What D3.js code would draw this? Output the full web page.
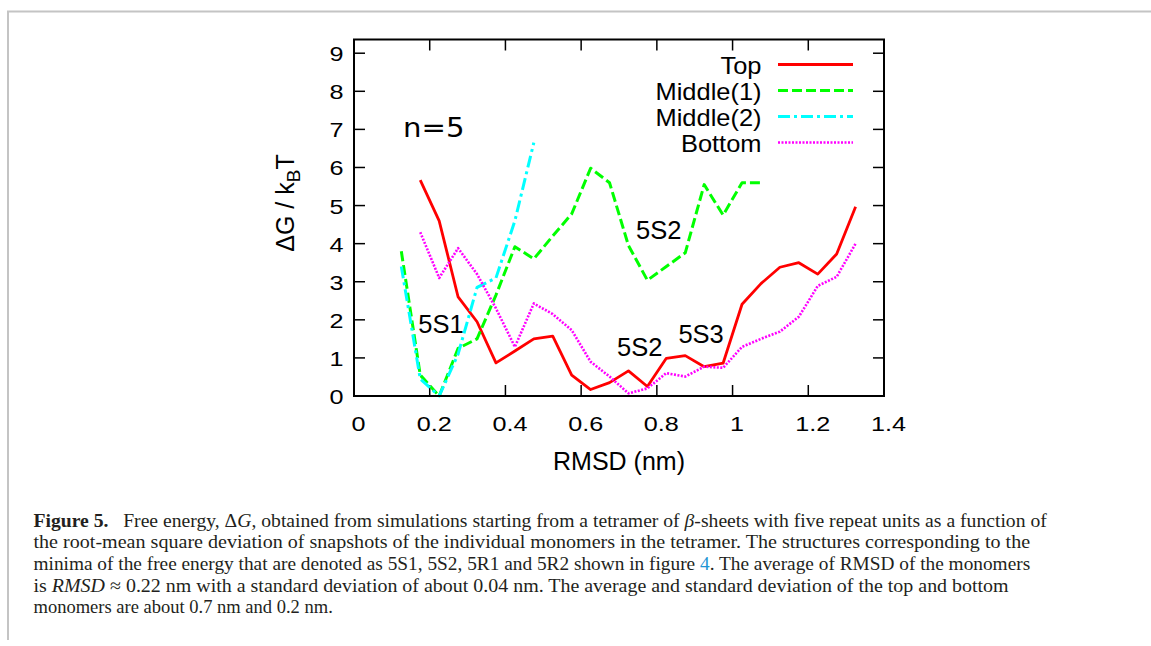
<!DOCTYPE html>
<html>
<head>
<meta charset="utf-8">
<script src="https://cdn.jsdelivr.net/npm/d3@7"></script>
<style>
  body { margin: 0; background: #fff; }
  svg { display: block; }
</style>
</head>
<body>
<svg width="1151" height="646"></svg>
<script>
// values (RMSD in nm, dG in kBT)
const topX = [0.175, 0.225, 0.275, 0.325, 0.375, 0.425, 0.475, 0.525, 0.575, 0.625, 0.675, 0.725,
              0.775, 0.825, 0.875, 0.925, 0.975, 1.025, 1.075, 1.125, 1.175, 1.225, 1.275, 1.325];
const topY = [5.67, 4.6, 2.6, 1.95, 0.87, 1.18, 1.5, 1.57, 0.55, 0.17, 0.35, 0.66,
              0.25, 0.99, 1.06, 0.77, 0.86, 2.41, 2.95, 3.38, 3.5, 3.2, 3.73, 4.97];

const mid1X = [0.125, 0.175, 0.225, 0.275, 0.325, 0.375, 0.425, 0.475, 0.525, 0.575,
               0.625, 0.675, 0.725, 0.775, 0.825, 0.875, 0.925, 0.975, 1.025, 1.075];
const mid1Y = [3.8, 0.55, 0.0, 1.25, 1.5, 2.65, 3.92, 3.6, 4.2, 4.78,
               5.98, 5.6, 3.95, 3.04, 3.4, 3.76, 5.55, 4.75, 5.6, 5.6];

const mid2X = [0.125, 0.175, 0.225, 0.275, 0.325, 0.375, 0.425, 0.475];
const mid2Y = [3.4, 0.45, 0.0, 1.1, 2.85, 3.1, 4.6, 6.65];

const botX = [0.175, 0.225, 0.275, 0.325, 0.375, 0.425, 0.475, 0.525, 0.575, 0.625, 0.675, 0.725,
              0.775, 0.825, 0.875, 0.925, 0.975, 1.025, 1.075, 1.125, 1.175, 1.225, 1.275, 1.325];
const botY = [4.3, 3.1, 3.88, 3.2, 2.3, 1.29, 2.43, 2.15, 1.73, 0.9, 0.51, 0.07,
              0.2, 0.6, 0.51, 0.77, 0.74, 1.29, 1.5, 1.69, 2.08, 2.89, 3.13, 4.0];

const xTicks = [0, 0.2, 0.4, 0.6, 0.8, 1, 1.2, 1.4];
const yTicks = [0, 1, 2, 3, 4, 5, 6, 7, 8, 9];
const seriesNames = ["Top", "Middle(1)", "Middle(2)", "Bottom"];

const annotations = [
  { text: "5S1", x: 0.17, y: 1.65 },
  { text: "5S2", x: 0.745, y: 4.12 },
  { text: "5S2", x: 0.695, y: 1.04 },
  { text: "5S3", x: 0.857, y: 1.4 }
];

const series = [
  { name: seriesNames[0], xs: topX, ys: topY, color: "#ff0000", dash: null, width: 2.8 },
  { name: seriesNames[1], xs: mid1X, ys: mid1Y, color: "#00ff00", dash: "10,4", width: 3 },
  { name: seriesNames[2], xs: mid2X, ys: mid2Y, color: "#00ffff", dash: "12,4,3,4", width: 3 },
  { name: seriesNames[3], xs: botX, ys: botY, color: "#ff00ff", dash: "2,1.5", width: 2.6 }
];

const svg = d3.select("svg");
const sans = "'Liberation Sans', Arial, sans-serif";

// outer grey frame of the page
svg.append("path")
  .attr("d", "M8,640 L8,11.5 L1151,11.5")
  .attr("fill", "none")
  .attr("stroke", "#c4c4c4")
  .attr("stroke-width", 2);

const x = d3.scaleLinear().domain([0, 1.4]).range([354, 884]);
const y = d3.scaleLinear().domain([0, 9.36]).range([396, 39.5]);

// stretch text horizontally (the figure was scaled wider than tall)
function stretch(sel, k, anchor) {
  sel.each(function() {
    const t = d3.select(this);
    const px = +t.attr("x"), py = +t.attr("y");
    t.attr("x", 0).attr("y", 0)
      .attr("text-anchor", anchor)
      .attr("transform", `translate(${px},${py}) scale(${k},1)`);
  });
}

// ticks on all four sides, pointing inward
const tickG = svg.append("g").attr("stroke", "#000").attr("stroke-width", 1.5);
tickG.selectAll(".xb").data(xTicks).join("line")
  .attr("x1", d => x(d)).attr("x2", d => x(d)).attr("y1", 396).attr("y2", 385);
tickG.selectAll(".xt").data(xTicks).join("line")
  .attr("x1", d => x(d)).attr("x2", d => x(d)).attr("y1", 39.5).attr("y2", 50.5);
tickG.selectAll(".yl").data(yTicks).join("line")
  .attr("x1", 354).attr("x2", 365).attr("y1", d => y(d)).attr("y2", d => y(d));
tickG.selectAll(".yr").data(yTicks).join("line")
  .attr("x1", 884).attr("x2", 873).attr("y1", d => y(d)).attr("y2", d => y(d));

// tick labels
svg.append("g").selectAll("text").data(xTicks).join("text")
  .attr("x", d => x(d) + 4.5).attr("y", 430.5)
  .attr("font-family", sans).attr("font-size", 21)
  .text(d => d3.format("~g")(d))
  .call(stretch, 1.2, "middle");

svg.append("g").selectAll("text").data(yTicks).join("text")
  .attr("x", 343.5).attr("y", d => y(d) + 8)
  .attr("font-family", sans).attr("font-size", 21)
  .text(d => d)
  .call(stretch, 1.2, "end");

// axis titles
svg.append("text")
  .attr("x", 619).attr("y", 470)
  .attr("text-anchor", "middle")
  .attr("font-family", sans).attr("font-size", 25)
  .text("RMSD (nm)");

const yl = svg.append("text")
  .attr("transform", "translate(294,203) rotate(-90)")
  .attr("text-anchor", "middle")
  .attr("font-family", sans).attr("font-size", 25);
yl.append("tspan").text("\u0394G / k");
yl.append("tspan").attr("font-size", 19).attr("dy", 6).text("B");
yl.append("tspan").attr("dy", -6).text("T");

// curves
const line = d3.line().x(d => x(d[0])).y(d => y(d[1]));
svg.append("g").selectAll("path").data(series).join("path")
  .attr("d", s => line(d3.zip(s.xs, s.ys)))
  .attr("fill", "none")
  .attr("stroke", s => s.color)
  .attr("stroke-width", s => s.width)
  .attr("stroke-dasharray", s => s.dash)
  .attr("stroke-linejoin", "round");

// frame on top of the curves
svg.append("rect")
  .attr("x", 354).attr("y", 39.5)
  .attr("width", 530).attr("height", 356.5)
  .attr("fill", "none").attr("stroke", "#000").attr("stroke-width", 2);

// legend
const leg = svg.append("g");
leg.selectAll("text").data(series).join("text")
  .attr("x", 761.5).attr("y", (d, i) => 73.5 + i * 26)
  .attr("font-family", sans).attr("font-size", 24)
  .text(d => d.name)
  .call(stretch, 1.06, "end");
leg.selectAll("line").data(series).join("line")
  .attr("x1", 778).attr("x2", 853)
  .attr("y1", (d, i) => 64.5 + i * 26).attr("y2", (d, i) => 64.5 + i * 26)
  .attr("stroke", d => d.color)
  .attr("stroke-width", d => d.width)
  .attr("stroke-dasharray", d => d.dash);

// annotations
svg.append("text")
  .attr("x", 403).attr("y", 136.5)
  .attr("font-family", "'DejaVu Sans', sans-serif").attr("font-size", 27)
  .text("n=5")
  .call(stretch, 1.08, "start");

svg.append("g").selectAll("text").data(annotations).join("text")
  .attr("x", d => x(d.x)).attr("y", d => y(d.y))
  .attr("font-family", sans).attr("font-size", 25.5)
  .text(d => d.text);

// caption
const serif = "'Liberation Serif', 'Times New Roman', serif";
const capColor = "#231f20";
const capLines = [
  [["b", "Figure 5."], ["", "\u2002 Free energy, \u0394"], ["i", "G"], ["", ", obtained from simulations starting from a tetramer of "], ["i", "\u03b2"], ["", "-sheets with five repeat units as a function of"]],
  [["", "the root-mean square deviation of snapshots of the individual monomers in the tetramer. The structures corresponding to the"]],
  [["", "minima of the free energy that are denoted as 5S1, 5S2, 5R1 and 5R2 shown in figure "], ["l", "4"], ["", ". The average of RMSD of the monomers"]],
  [["", "is "], ["i", "RMSD"], ["", " \u2248 0.22 nm with a standard deviation of about 0.04 nm. The average and standard deviation of the top and bottom"]],
  [["", "monomers are about 0.7 nm and 0.2 nm."]]
];
const capEnds = [1047, 1031, 1031, 1009, 333];

capLines.forEach((parts, i) => {
  const t = svg.append("text")
    .attr("x", 0).attr("y", 0)
    .attr("font-family", serif).attr("font-size", 18.5)
    .attr("fill", capColor);
  parts.forEach(([kind, str]) => {
    const sp = t.append("tspan").text(str);
    if (kind === "b") sp.attr("font-weight", "bold");
    if (kind === "i") sp.attr("font-style", "italic");
    if (kind === "l") sp.attr("fill", "#1e95d4");
  });
  const w = t.node().getComputedTextLength();
  const k = (capEnds[i] - 33.5) / w;
  t.attr("transform", `translate(33.5,${526.7 + i * 21.6}) scale(${k},1)`);
});
</script>
</body>
</html>
